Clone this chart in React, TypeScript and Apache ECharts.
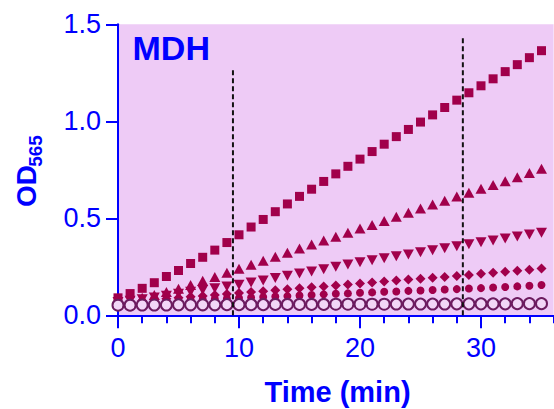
import React, { useEffect, useRef } from "react";
import * as echarts from "echarts";

const times = Array.from({ length: 36 }, (_, i) => i);

const squares = [0.090, 0.112, 0.139, 0.168, 0.200, 0.231, 0.267, 0.299, 0.336, 0.375, 0.415, 0.455, 0.494, 0.534, 0.574, 0.613, 0.650, 0.690, 0.729, 0.768, 0.805, 0.844, 0.882, 0.921, 0.958, 0.996, 1.033, 1.071, 1.109, 1.147, 1.183, 1.219, 1.256, 1.292, 1.328, 1.364];
const upTriangles = [0.068, 0.078, 0.090, 0.104, 0.120, 0.137, 0.156, 0.178, 0.198, 0.219, 0.240, 0.261, 0.281, 0.302, 0.323, 0.344, 0.365, 0.386, 0.405, 0.426, 0.447, 0.465, 0.486, 0.508, 0.528, 0.550, 0.571, 0.591, 0.612, 0.632, 0.652, 0.672, 0.691, 0.712, 0.733, 0.755];
const downTriangles = [0.068, 0.075, 0.083, 0.092, 0.101, 0.111, 0.121, 0.130, 0.139, 0.148, 0.158, 0.169, 0.180, 0.192, 0.204, 0.215, 0.226, 0.238, 0.250, 0.262, 0.274, 0.284, 0.294, 0.304, 0.314, 0.325, 0.335, 0.345, 0.356, 0.366, 0.376, 0.386, 0.396, 0.406, 0.416, 0.426];
const diamonds = [0.066, 0.070, 0.075, 0.080, 0.085, 0.090, 0.095, 0.100, 0.105, 0.110, 0.115, 0.120, 0.124, 0.129, 0.134, 0.139, 0.144, 0.149, 0.154, 0.159, 0.164, 0.169, 0.174, 0.179, 0.184, 0.188, 0.193, 0.198, 0.203, 0.208, 0.214, 0.219, 0.224, 0.230, 0.235, 0.241];
const dots = [0.064, 0.067, 0.069, 0.072, 0.074, 0.077, 0.079, 0.082, 0.084, 0.087, 0.089, 0.092, 0.094, 0.097, 0.099, 0.102, 0.105, 0.108, 0.111, 0.113, 0.116, 0.118, 0.121, 0.123, 0.126, 0.128, 0.130, 0.133, 0.135, 0.138, 0.140, 0.143, 0.146, 0.149, 0.152, 0.156];
const openCircles = [0.052, 0.052, 0.053, 0.053, 0.053, 0.054, 0.054, 0.054, 0.054, 0.055, 0.055, 0.055, 0.055, 0.056, 0.056, 0.056, 0.056, 0.056, 0.057, 0.057, 0.057, 0.057, 0.057, 0.058, 0.058, 0.058, 0.058, 0.058, 0.059, 0.059, 0.059, 0.059, 0.059, 0.060, 0.060, 0.060];

const dashLine1 = [[9.5, 0], [9.5, 1.27]];
const dashLine2 = [[28.5, 0], [28.5, 1.43]];

const xMajorTicks = [0, 10, 20, 30];
const yTicks = [0, 0.5, 1.0, 1.5];

const FONT = "'Liberation Sans', Arial, Helvetica, sans-serif";
const BLUE = "#0000ff";
const MARK = "#a1004b";

function pts(vals: number[]) {
  return times.map((t, i) => [t, vals[i]]);
}

export default function App() {
  const ref = useRef<HTMLDivElement>(null);
  useEffect(() => {
    if (!ref.current) return;
    const chart = echarts.init(ref.current, null, { renderer: "svg" });
    const markerStyle = { color: MARK, opacity: 1 };
    const dashStyle = { color: "#111", width: 2, type: [5, 3] };
    chart.setOption({
      animation: false,
      grid: {
        left: 118,
        top: 24.3,
        right: 0.4,
        bottom: 93.7,
        show: true,
        backgroundColor: "#eecbf6",
        borderWidth: 0,
      },
      xAxis: [
        {
          type: "value",
          min: 0,
          max: 36,
          interval: 10,
          axisLine: { show: true, onZero: false, lineStyle: { color: BLUE, width: 2 } },
          axisTick: { show: true, length: 13, lineStyle: { color: BLUE, width: 2 }, customValues: xMajorTicks },
          axisLabel: {
            color: BLUE,
            fontSize: 27,
            fontFamily: FONT,
            margin: 19,
            customValues: xMajorTicks,
          },
          splitLine: { show: false },
        },
        {
          type: "value",
          min: 0,
          max: 36,
          interval: 2,
          position: "bottom",
          axisLine: { show: false },
          axisTick: { show: true, length: 8, lineStyle: { color: BLUE, width: 2 } },
          axisLabel: { show: false },
          splitLine: { show: false },
        },
      ],
      yAxis: {
        type: "value",
        min: 0,
        max: 1.5,
        interval: 0.5,
        axisLine: { show: true, lineStyle: { color: BLUE, width: 2 } },
        axisTick: { show: true, length: 12, lineStyle: { color: BLUE, width: 2 } },
        axisLabel: {
          color: BLUE,
          fontSize: 27,
          fontFamily: FONT,
          margin: 17,
          formatter: (v: number) => v.toFixed(1),
          customValues: yTicks,
        },
        splitLine: { show: false },
      },
      graphic: [
        {
          type: "text",
          x: 132.5,
          y: 47.5,
          style: { text: "MDH", fill: BLUE, font: `bold 34px ${FONT}`, align: "left", verticalAlign: "middle" },
          z: 100,
        },
        {
          type: "text",
          x: 337.5,
          y: 392,
          style: { text: "Time (min)", fill: BLUE, font: `bold 29px ${FONT}`, align: "center", verticalAlign: "middle" },
        },
        {
          type: "text",
          x: 26,
          y: 186,
          rotation: Math.PI / 2,
          style: { text: "OD", fill: BLUE, font: `bold 28px ${FONT}`, align: "center", verticalAlign: "middle" },
        },
        {
          type: "text",
          x: 35,
          y: 151,
          rotation: Math.PI / 2,
          style: { text: "565", fill: BLUE, font: `bold 19px ${FONT}`, align: "center", verticalAlign: "middle" },
        },
      ],
      series: [
        { type: "scatter", data: pts(squares), symbol: "rect", symbolSize: 9, itemStyle: markerStyle, z: 2 },
        { type: "scatter", data: pts(upTriangles), symbol: "triangle", symbolSize: [11, 10], itemStyle: markerStyle, z: 2 },
        {
          type: "scatter",
          data: pts(downTriangles),
          symbol: "triangle",
          symbolRotate: 180,
          symbolSize: [11, 10],
          itemStyle: markerStyle,
          z: 2,
        },
        { type: "scatter", data: pts(diamonds), symbol: "diamond", symbolSize: [10, 10], itemStyle: markerStyle, z: 2 },
        { type: "scatter", data: pts(dots), symbol: "circle", symbolSize: 8, itemStyle: markerStyle, z: 2 },
        {
          type: "scatter",
          data: pts(openCircles),
          symbol: "circle",
          symbolSize: 11,
          itemStyle: { color: "#f2d6f7", borderColor: "#6c1b5f", borderWidth: 2, opacity: 1 },
          z: 3,
        },
        { type: "line", data: dashLine1, symbol: "none", lineStyle: dashStyle, z: 4 },
        { type: "line", data: dashLine2, symbol: "none", lineStyle: dashStyle, z: 4 },
      ],
    });
    return () => chart.dispose();
  }, []);
  return <div ref={ref} style={{ position: "absolute", left: 0, top: 0, width: 554, height: 409 }} />;
}
